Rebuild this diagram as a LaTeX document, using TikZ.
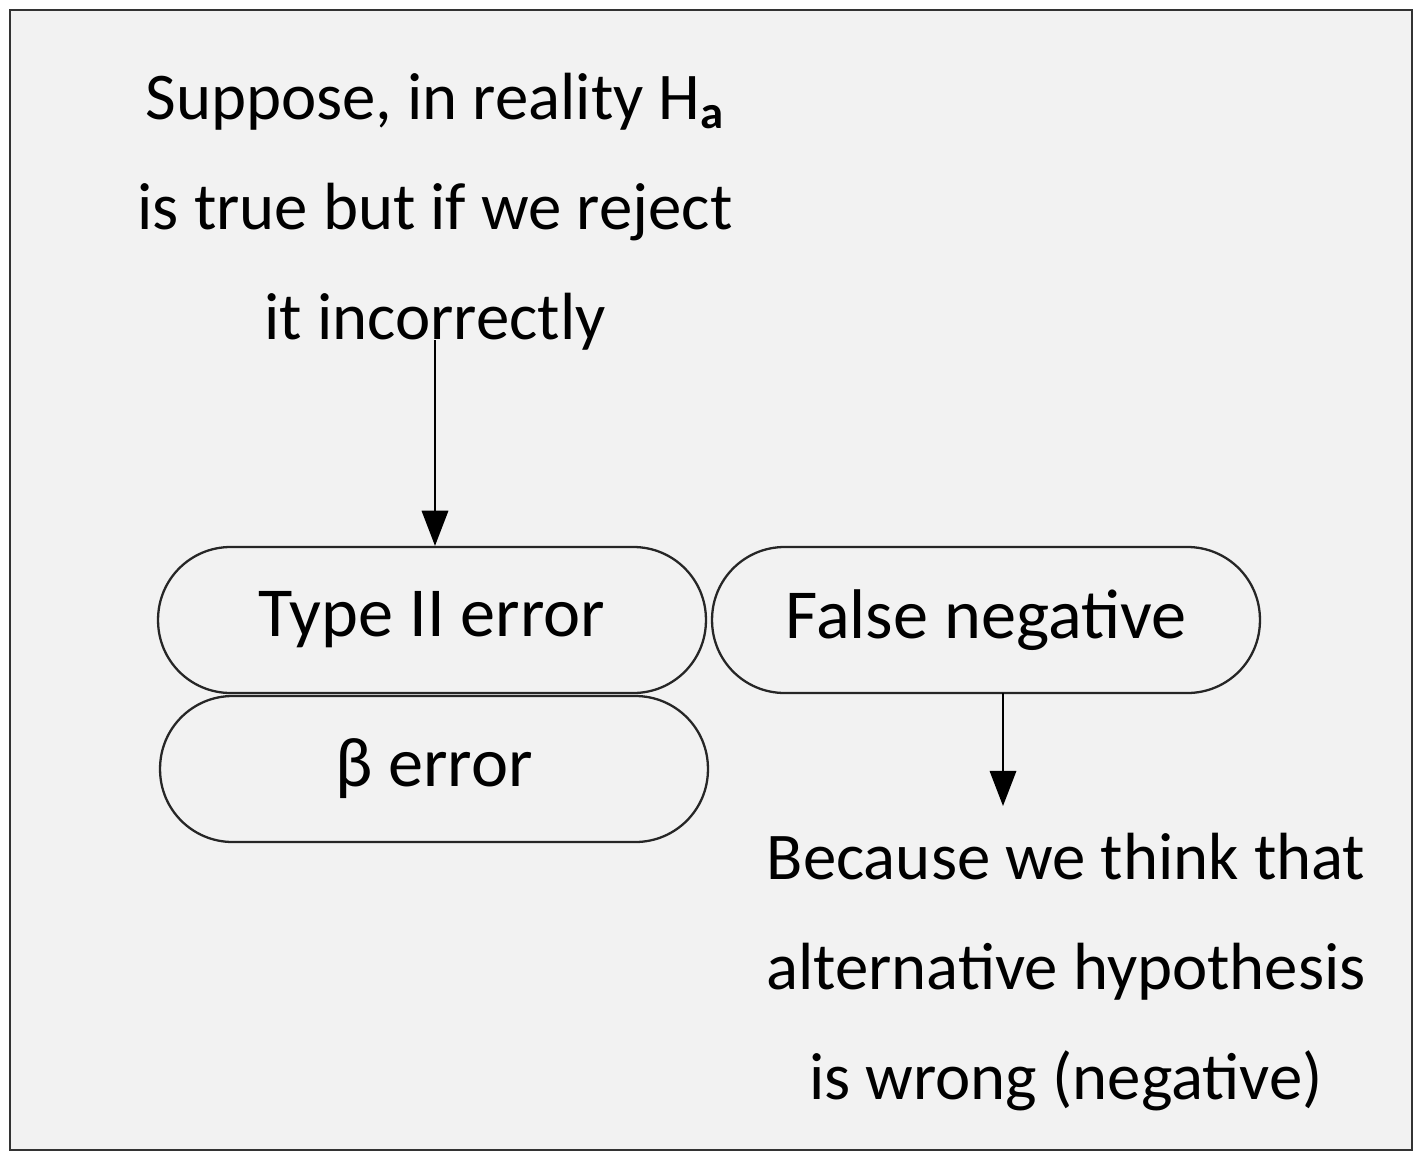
\documentclass[tikz,border=0pt]{standalone}
\usepackage{fontspec}
\setmainfont{Carlito}
\usetikzlibrary{arrows.meta}
\tikzset{
  pill/.style={draw=black!85, line width=1.3pt, rounded corners=1.45cm,
    minimum width=10.96cm, minimum height=2.92cm, inner sep=0pt,
    font=\fontsize{40}{48}\selectfont},
  note/.style={align=center, inner sep=0pt, font=\fontsize{38}{62.5}\selectfont},
  conn/.style={line width=1.3pt, -{Triangle[width=15pt,length=20pt]}}
}
\begin{document}
\begin{tikzpicture}[x=0.02cm,y=-0.02cm]
\useasboundingbox (0,0) rectangle (1428,1167);
\draw[fill=black!5, draw=black!80, line width=1.4pt] (10,10) rectangle (1412,1150);
\node[note] (top) at (435,212) {Suppose, in reality H\textsubscript{\textbf{a}}\\ is true but if we reject\\ it incorrectly};
\coordinate (topstart) at (435,340);
\node[pill] (type2) at (432,620) {Type II error};
\node[pill] (beta) at (434,769) {β error};
\node[pill] (falseneg) at (986,620) {False negative};
\coordinate (fnstart) at (1003,693);
\node[note] (bottom) at (1066,972) {Because we think that\\ alternative hypothesis\\ is wrong (negative)};
\draw[conn] (topstart) -- (type2.north -| topstart);
\draw[conn] (fnstart) -- (1003,806) coordinate (fnend);
\end{tikzpicture}
\end{document}
